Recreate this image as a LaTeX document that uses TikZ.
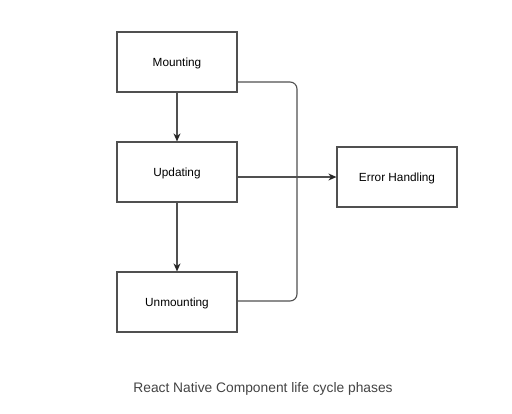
\documentclass[tikz,border=0pt]{standalone}
\usepackage{fontspec}
\setmainfont{Liberation Sans}
\usetikzlibrary{arrows.meta}
\definecolor{linegray}{HTML}{505050}
\definecolor{captiongray}{HTML}{444444}
\begin{document}
\begin{tikzpicture}[x=1pt,y=-1pt,
  phase/.style={draw=linegray,line width=1.2pt,minimum width=120pt,minimum height=60pt,inner sep=0pt,font=\fontsize{11.8}{13}\selectfont,text=black,text depth=0pt},
  conn/.style={draw=linegray,line width=1.1pt},
  arr/.style={conn,-{Stealth[length=8pt,width=7pt,color=black!85]}}]
\useasboundingbox (0,0) rectangle (512,413);
\fill[white] (0,0) rectangle (512,413);
\node[phase] (mount) at (177,62) {Mounting};
\node[phase] (upd) at (177,172) {Updating};
\node[phase] (unmount) at (177,302) {Unmounting};
\node[phase] (err) at (397,177) {Error Handling};
\coordinate (mr) at (237,82);
\coordinate (ur) at (237,301);
\draw[arr] (mount) -- (upd);
\draw[arr] (upd) -- (unmount);
\draw[conn,rounded corners=7pt] (mr) -- (297,82) -- (297,301) -- (ur);
\draw[arr] (237,177) -- (err.west);
\node[font=\fontsize{13.8}{16}\selectfont,text=captiongray] (cap) at (263,389) {React Native Component life cycle phases};
\end{tikzpicture}
\end{document}
